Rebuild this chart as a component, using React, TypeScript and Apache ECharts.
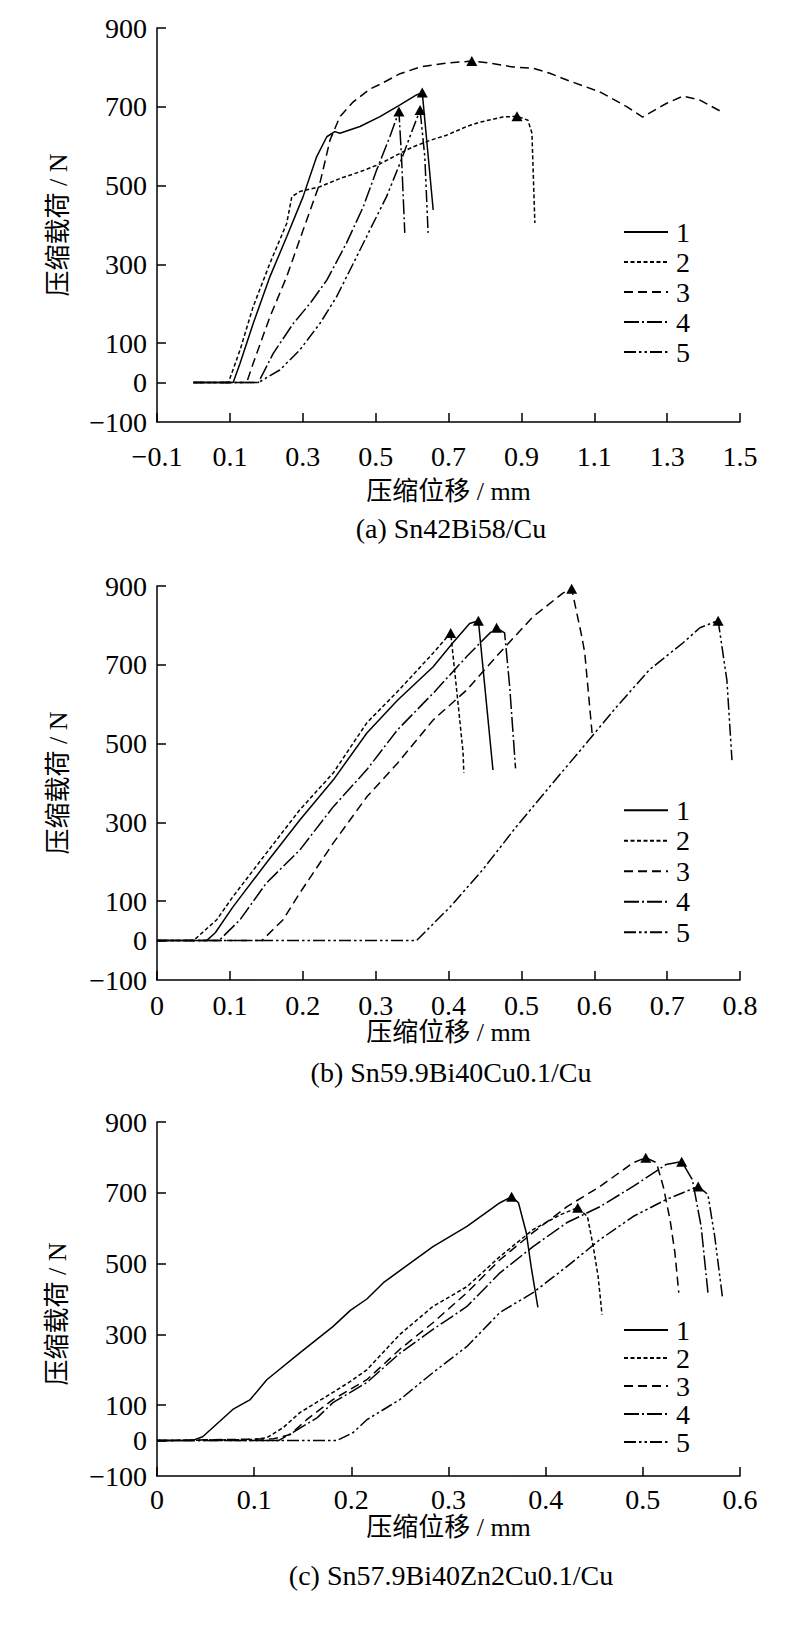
import React, { useEffect, useRef } from "react";
import * as echarts from "echarts";

type P = [number, number];

// ---------- text ----------
const SERIES_NAMES = ["1", "2", "3", "4", "5"];
const CAPTIONS = ["(a) Sn42Bi58/Cu", "(b) Sn59.9Bi40Cu0.1/Cu", "(c) Sn57.9Bi40Zn2Cu0.1/Cu"];
const X_NAME = "压缩位移 / mm";
const Y_NAME = "压缩载荷 / N";

// ---------- ticks ----------
const Y_LABELS = [-100, 0, 100, 300, 500, 700, 900];
const Y_TICKS = [0, 100, 300, 500, 700, 900];
const X_A_VALUES = [-0.1, 0.1, 0.3, 0.5, 0.7, 0.9, 1.1, 1.3, 1.5];

// ---------- (a) Sn42Bi58/Cu ----------
const a1: P[] = [[0, 0], [0.109, 0], [0.128, 49], [0.164, 150], [0.21, 269], [0.256, 370], [0.301, 472], [0.338, 573], [0.366, 624], [0.388, 637], [0.402, 633], [0.457, 650], [0.512, 675], [0.567, 705], [0.612, 730], [0.628, 736], [0.658, 438]];
const a2: P[] = [[0, 0], [0.096, 0], [0.128, 83], [0.164, 193], [0.21, 303], [0.256, 404], [0.27, 472], [0.292, 485], [0.347, 497], [0.402, 518], [0.457, 535], [0.512, 555], [0.567, 582], [0.602, 598], [0.65, 615], [0.695, 628], [0.75, 650], [0.786, 661], [0.849, 674], [0.888, 676], [0.918, 666], [0.929, 633], [0.932, 547], [0.937, 405]];
const a3: P[] = [[0, 0], [0.146, 0], [0.164, 49], [0.21, 167], [0.256, 269], [0.301, 387], [0.347, 506], [0.375, 616], [0.402, 675], [0.438, 712], [0.484, 745], [0.512, 757], [0.567, 784], [0.622, 801], [0.695, 811], [0.764, 816], [0.814, 811], [0.877, 801], [0.932, 798], [0.978, 785], [1.025, 768], [1.115, 738], [1.19, 700], [1.233, 674], [1.299, 709], [1.343, 727], [1.39, 717], [1.45, 687]];
const a4: P[] = [[0, 0], [0.178, 0], [0.219, 74], [0.274, 150], [0.32, 201], [0.366, 260], [0.42, 354], [0.466, 446], [0.503, 540], [0.539, 624], [0.564, 688], [0.571, 573], [0.58, 380]];
const a5: P[] = [[0, 0], [0.178, 0], [0.237, 32], [0.292, 83], [0.347, 150], [0.393, 218], [0.439, 303], [0.484, 387], [0.53, 472], [0.567, 557], [0.594, 624], [0.622, 692], [0.635, 573], [0.644, 380]];

// ---------- (b) Sn59.9Bi40Cu0.1/Cu ----------
const b1: P[] = [[0, 0], [0.068, 0], [0.08, 20], [0.104, 85], [0.15, 197], [0.196, 306], [0.242, 408], [0.288, 527], [0.33, 610], [0.379, 695], [0.406, 756], [0.429, 805], [0.441, 812], [0.461, 433]];
const b2: P[] = [[0, 0], [0.05, 0], [0.082, 53], [0.104, 111], [0.15, 222], [0.196, 332], [0.242, 426], [0.288, 553], [0.33, 632], [0.379, 730], [0.403, 781], [0.413, 604], [0.42, 477], [0.421, 426]];
const b3: P[] = [[0, 0], [0.144, 0], [0.173, 53], [0.196, 121], [0.242, 248], [0.288, 365], [0.33, 450], [0.379, 560], [0.425, 636], [0.47, 730], [0.516, 822], [0.557, 882], [0.569, 893], [0.583, 771], [0.587, 730], [0.597, 527]];
const b4: P[] = [[0, 0], [0.085, 0], [0.114, 53], [0.15, 146], [0.196, 230], [0.242, 340], [0.288, 434], [0.33, 535], [0.379, 628], [0.425, 721], [0.457, 781], [0.466, 794], [0.477, 781], [0.484, 644], [0.492, 437]];
const b5: P[] = [[0, 0], [0.356, 0], [0.402, 85], [0.447, 180], [0.493, 289], [0.539, 391], [0.585, 492], [0.631, 594], [0.676, 688], [0.722, 756], [0.745, 794], [0.77, 812], [0.782, 661], [0.789, 458]];

// ---------- (c) Sn57.9Bi40Zn2Cu0.1/Cu ----------
const c1: P[] = [[0, 0], [0.036, 0], [0.047, 11], [0.078, 88], [0.096, 116], [0.113, 172], [0.147, 248], [0.181, 322], [0.199, 368], [0.216, 400], [0.233, 446], [0.25, 480], [0.284, 548], [0.319, 605], [0.353, 672], [0.365, 689], [0.372, 672], [0.38, 588], [0.385, 492], [0.392, 376]];
const c2: P[] = [[0, 0], [0.1, 3], [0.113, 8], [0.13, 37], [0.147, 79], [0.181, 136], [0.199, 167], [0.216, 200], [0.25, 300], [0.284, 379], [0.319, 435], [0.353, 520], [0.387, 596], [0.415, 638], [0.433, 658], [0.443, 633], [0.449, 548], [0.454, 463], [0.458, 356]];
const c3: P[] = [[0, 0], [0.12, 5], [0.137, 17], [0.154, 59], [0.181, 116], [0.216, 172], [0.25, 258], [0.284, 333], [0.319, 418], [0.353, 511], [0.387, 588], [0.422, 661], [0.456, 718], [0.49, 785], [0.503, 799], [0.514, 785], [0.521, 718], [0.528, 624], [0.533, 531], [0.537, 418]];
const c4: P[] = [[0, 0], [0.125, 0], [0.14, 23], [0.165, 65], [0.181, 107], [0.216, 164], [0.25, 247], [0.284, 314], [0.319, 379], [0.353, 474], [0.387, 548], [0.422, 616], [0.456, 661], [0.49, 718], [0.524, 780], [0.54, 788], [0.551, 737], [0.56, 605], [0.567, 418]];
const c5: P[] = [[0, 0], [0.185, 0], [0.202, 23], [0.216, 59], [0.25, 116], [0.284, 192], [0.319, 266], [0.353, 362], [0.387, 418], [0.422, 492], [0.456, 568], [0.49, 633], [0.524, 681], [0.557, 718], [0.567, 695], [0.574, 576], [0.582, 404]];

const PANEL_DATA: P[][][] = [
  [a1, a2, a3, a4, a5],
  [b1, b2, b3, b4, b5],
  [c1, c2, c3, c4, c5],
];

// ---------- styles ----------
const FONT = "Liberation Serif, Times New Roman, Noto Sans CJK SC, serif";
const DASHES: any[] = ["solid", [4, 2.5], [9, 5], [15, 3, 2, 3], [12, 3, 2.5, 3, 2.5, 3]];

const LAYOUT = [
  { top: 28, height: 394, xMin: -0.1, xMax: 1.5, xCustom: X_A_VALUES, labelMargin: 20, xNameGap: 56, legendTop: 218, legendGap: 2, lh: 28, caption: 528, yNameAxis: true, yNameY: 225 },
  { top: 586, height: 394, xMin: 0, xMax: 0.8, xCustom: null, labelMargin: 11, xNameGap: 37, legendTop: 796, legendGap: 2, lh: 28.5, caption: 1072, yNameAxis: true, yNameY: 783 },
  { top: 1122, height: 354, xMin: 0, xMax: 0.6, xCustom: null, labelMargin: 9, xNameGap: 38, legendTop: 1316, legendGap: 0, lh: 27.5, caption: 1575, yNameAxis: false, yNameY: 1314 },
];

const fmtNum = (v: number) => {
  const r = Math.round(v * 10) / 10;
  const s = Math.abs(r) < 1e-9 ? "0" : String(r);
  return s.replace("-", "\u2212");
};

export default function App() {
  const ref = useRef<HTMLDivElement>(null);

  useEffect(() => {
    if (!ref.current) return;
    const chart = echarts.init(ref.current, undefined, { renderer: "svg" });

    const grid: any[] = [];
    const xAxis: any[] = [];
    const yAxis: any[] = [];
    const legend: any[] = [];
    const series: any[] = [];
    const graphic: any[] = [];

    LAYOUT.forEach((L, i) => {
      grid.push({ left: 157, width: 583, top: L.top, height: L.height, containLabel: false });

      const axisLineStyle = { color: "#000", width: 1.5 };
      const xa: any = {
        type: "value",
        gridIndex: i,
        min: L.xMin,
        max: L.xMax,
        axisLine: { show: true, onZero: false, lineStyle: axisLineStyle },
        axisTick: { show: true, inside: true, length: 9, lineStyle: axisLineStyle },
        axisLabel: { color: "#000", fontSize: 28, fontFamily: FONT, margin: L.labelMargin, formatter: fmtNum },
        splitLine: { show: false },
        name: X_NAME,
        nameLocation: "middle",
        nameGap: L.xNameGap,
        nameTextStyle: { color: "#000", fontSize: 26, fontFamily: FONT },
      };
      if (L.xCustom) {
        xa.axisTick.customValues = L.xCustom;
        xa.axisLabel.customValues = L.xCustom;
      } else {
        xa.interval = 0.1;
      }
      xAxis.push(xa);

      const ya: any = {
        type: "value",
        gridIndex: i,
        min: -100,
        max: 900,
        interval: 100,
        axisLine: { show: true, onZero: false, lineStyle: axisLineStyle },
        axisTick: { show: true, inside: true, length: 9, lineStyle: axisLineStyle, customValues: Y_TICKS },
        axisLabel: { color: "#000", fontSize: 28, fontFamily: FONT, margin: 10, customValues: Y_LABELS, formatter: fmtNum },
        splitLine: { show: false },
      };
      if (L.yNameAxis) {
        ya.name = Y_NAME;
        ya.nameLocation = "middle";
        ya.nameGap = 86;
        ya.nameRotate = 90;
        ya.nameTextStyle = { color: "#000", fontSize: 26, fontFamily: FONT };
      } else {
        graphic.push({
          type: "text",
          x: 57,
          y: L.yNameY,
          rotation: Math.PI / 2,
          style: {
            text: Y_NAME,
            fontSize: 26,
            fontFamily: FONT,
            fill: "#000",
            align: "center",
            verticalAlign: "middle",
          },
        });
      }
      yAxis.push(ya);

      legend.push({
        data: SERIES_NAMES,
        orient: "vertical",
        left: 623,
        top: L.legendTop,
        padding: 0,
        itemWidth: 44,
        itemHeight: 14,
        itemGap: L.legendGap,
        selectedMode: false,
        itemStyle: { opacity: 0 },
        textStyle: { color: "#000", fontSize: 28, fontFamily: FONT, lineHeight: L.lh, padding: [0, 0, 0, 3] },
      });

      PANEL_DATA[i].forEach((pts, k) => {
        let peak = pts[0];
        pts.forEach((p) => {
          if (p[1] > peak[1]) peak = p;
        });
        series.push({
          type: "line",
          name: SERIES_NAMES[k],
          xAxisIndex: i,
          yAxisIndex: i,
          data: pts,
          symbol: "none",
          smooth: false,
          lineStyle: { color: "#000", width: 1.5, type: DASHES[k] },
          itemStyle: { color: "#000" },
          markPoint: {
            symbol: "triangle",
            symbolSize: [11, 10],
            itemStyle: { color: "#000", opacity: 1 },
            label: { show: false },
            data: [{ coord: peak }],
          },
        });
      });

      graphic.push({
        type: "text",
        x: 451,
        y: L.caption,
        style: {
          text: CAPTIONS[i],
          fontSize: 28,
          fontFamily: FONT,
          fill: "#000",
          align: "center",
          verticalAlign: "middle",
        },
      });
    });

    chart.setOption({
      animation: false,
      backgroundColor: "#fff",
      textStyle: { fontFamily: FONT, color: "#000" },
      grid,
      xAxis,
      yAxis,
      legend,
      series,
      graphic,
    });

    return () => chart.dispose();
  }, []);

  return (
    <div
      ref={ref}
      style={{ position: "absolute", left: 0, top: 0, width: 800, height: 1641, background: "#fff" }}
    />
  );
}
